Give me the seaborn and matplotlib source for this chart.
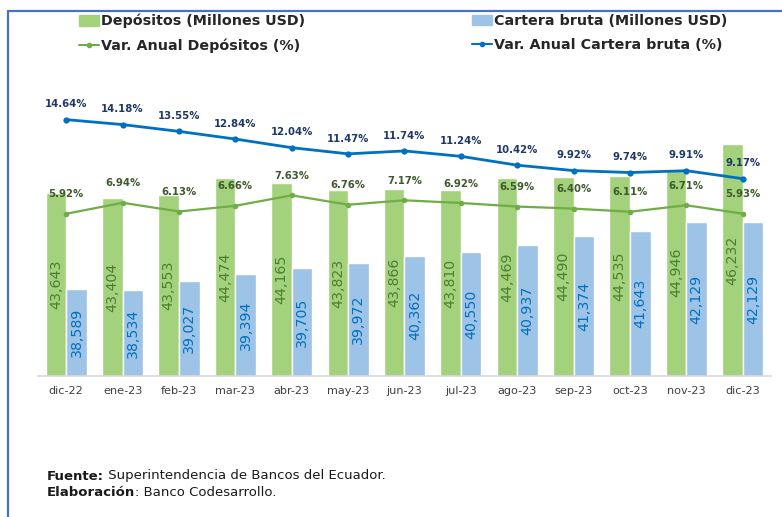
import numpy as np
import pandas as pd
import matplotlib
matplotlib.use("Agg")
import matplotlib.pyplot as plt
from matplotlib.lines import Line2D
from matplotlib.patches import Patch
import seaborn as sns

# ---- data -------------------------------------------------------------
meses = ["dic-22", "ene-23", "feb-23", "mar-23", "abr-23", "may-23", "jun-23",
         "jul-23", "ago-23", "sep-23", "oct-23", "nov-23", "dic-23"]
depositos = [43643, 43404, 43553, 44474, 44165, 43823, 43866,
             43810, 44469, 44490, 44535, 44946, 46232]
cartera = [38589, 38534, 39027, 39394, 39705, 39972, 40362,
           40550, 40937, 41374, 41643, 42129, 42129]
var_depositos = [5.92, 6.94, 6.13, 6.66, 7.63, 6.76, 7.17,
                 6.92, 6.59, 6.40, 6.11, 6.71, 5.93]
var_cartera = [14.64, 14.18, 13.55, 12.84, 12.04, 11.47, 11.74,
               11.24, 10.42, 9.92, 9.74, 9.91, 9.17]

lbl_dep = "Depósitos (Millones USD)"
lbl_car = "Cartera bruta (Millones USD)"
lbl_vdep = "Var. Anual Depósitos (%)"
lbl_vcar = "Var. Anual Cartera bruta (%)"

# ---- styling ----------------------------------------------------------
GREEN_BAR = "#A3D17C"
BLUE_BAR = "#9DC3E6"
GREEN_LINE = "#70AD47"
BLUE_LINE = "#0070C0"
GREEN_TXT = "#4A8030"
BLUE_TXT = "#0070C0"
NAVY_TXT = "#1F3864"
OLIVE_TXT = "#3E5A2C"
FRAME = "#4472C4"

sns.set_theme(style="white")
plt.rcParams["font.family"] = ["DejaVu Sans"]

W, H = 782, 517
fig = plt.figure(figsize=(W / 100, H / 100), dpi=100)
fig.patch.set_facecolor("white")

# plot area in pixels: x 38..771, y 60..376
ax = fig.add_axes([38 / W, (H - 376) / H, 733 / W, 316 / H])

bars = pd.DataFrame({
    "mes": meses * 2,
    "valor": depositos + cartera,
    "serie": [lbl_dep] * len(meses) + [lbl_car] * len(meses),
})
sns.barplot(data=bars, x="mes", y="valor", hue="serie",
            hue_order=[lbl_dep, lbl_car], palette=[GREEN_BAR, BLUE_BAR],
            width=0.73, saturation=1, errorbar=None, legend=False, ax=ax)

y0 = 34000
ax.set_ylim(y0, y0 + 316 * 52.8)

# value labels inside the bars
for cont, vals, col in zip(ax.containers, [depositos, cartera], [GREEN_TXT, BLUE_TXT]):
    for patch, v in zip(cont, vals):
        xc = patch.get_x() + patch.get_width() / 2
        ax.text(xc, (y0 + v) / 2, f"{v:,}", rotation=90, ha="center", va="center",
                fontsize=10.2, color=col)

# ---- year-on-year variation lines on secondary axis --------------------
ax2 = ax.twinx()
sns.pointplot(x=meses, y=var_depositos, color=GREEN_LINE, errorbar=None,
              marker="o", markersize=4, markeredgewidth=0, linewidth=1.6, ax=ax2)
sns.pointplot(x=meses, y=var_cartera, color=BLUE_LINE, errorbar=None,
              marker="o", markersize=4.5, markeredgewidth=0, linewidth=2.0, ax=ax2)
ax2.set_ylim(-9.10, 20.16)

for i, v in enumerate(var_depositos):
    ax2.annotate(f"{v:.2f}%", (i, v), xytext=(0, 14), textcoords="offset points",
                 ha="center", va="center", fontsize=7.3, fontweight="bold", color=OLIVE_TXT)
for i, v in enumerate(var_cartera):
    ax2.annotate(f"{v:.2f}%", (i, v), xytext=(0, 11), textcoords="offset points",
                 ha="center", va="center", fontsize=7.3, fontweight="bold", color=NAVY_TXT)

# ---- axes cosmetics -----------------------------------------------------
for a in (ax, ax2):
    a.set_xlabel("")
    a.set_ylabel("")
    for s in a.spines.values():
        s.set_visible(False)
ax.spines["bottom"].set_visible(True)
ax.spines["bottom"].set_color("#D9D9D9")
ax.set_yticks([])
ax2.set_yticks([])
ax.set_xlim(-0.5, len(meses) - 0.5)
ax.tick_params(axis="x", length=0, pad=7.5, labelsize=8.1, labelcolor="#404040")

# ---- legends ------------------------------------------------------------
leg_kw = dict(loc="upper left", frameon=False, prop=dict(weight="bold", size=10.3),
              handlelength=1.4, handletextpad=0.15, labelspacing=0.72,
              borderaxespad=0, borderpad=0, labelcolor="#262626")
leg1 = fig.legend(handles=[Patch(color=GREEN_BAR),
                           Line2D([], [], color=GREEN_LINE, lw=1.5, marker="o", markersize=3)],
                  labels=[lbl_dep, lbl_vdep], bbox_to_anchor=(79 / W, 1 - 14 / H), **leg_kw)
leg2 = fig.legend(handles=[Patch(color=BLUE_BAR),
                           Line2D([], [], color=BLUE_LINE, lw=1.5, marker="o", markersize=3)],
                  labels=[lbl_car, lbl_vcar], bbox_to_anchor=(472 / W, 1 - 14 / H), **leg_kw)

# ---- frame ------------------------------------------------------------
fig.add_artist(Line2D([8 / W, 1], [1 - 11 / H, 1 - 11 / H], transform=fig.transFigure,
                      color=FRAME, lw=1.6))
fig.add_artist(Line2D([8 / W, 8 / W], [0, 1 - 11 / H], transform=fig.transFigure,
                      color=FRAME, lw=1.6))

# ---- source notes -------------------------------------------------------
fig.canvas.draw()
renderer = fig.canvas.get_renderer()


def nota(y_px, bold, normal):
    t = fig.text(47 / W, 1 - y_px / H, bold, fontsize=9.5, fontweight="bold",
                 color="#1a1a1a", va="center", ha="left")
    bb = t.get_window_extent(renderer=renderer)
    fig.text(bb.x1 / W, 1 - y_px / H, normal, fontsize=9.5, color="#1a1a1a",
             va="center", ha="left")


nota(476, "Fuente:", " Superintendencia de Bancos del Ecuador.")
nota(492, "Elaboración", ": Banco Codesarrollo.")

fig.savefig("out.png", dpi=100, facecolor="white")
